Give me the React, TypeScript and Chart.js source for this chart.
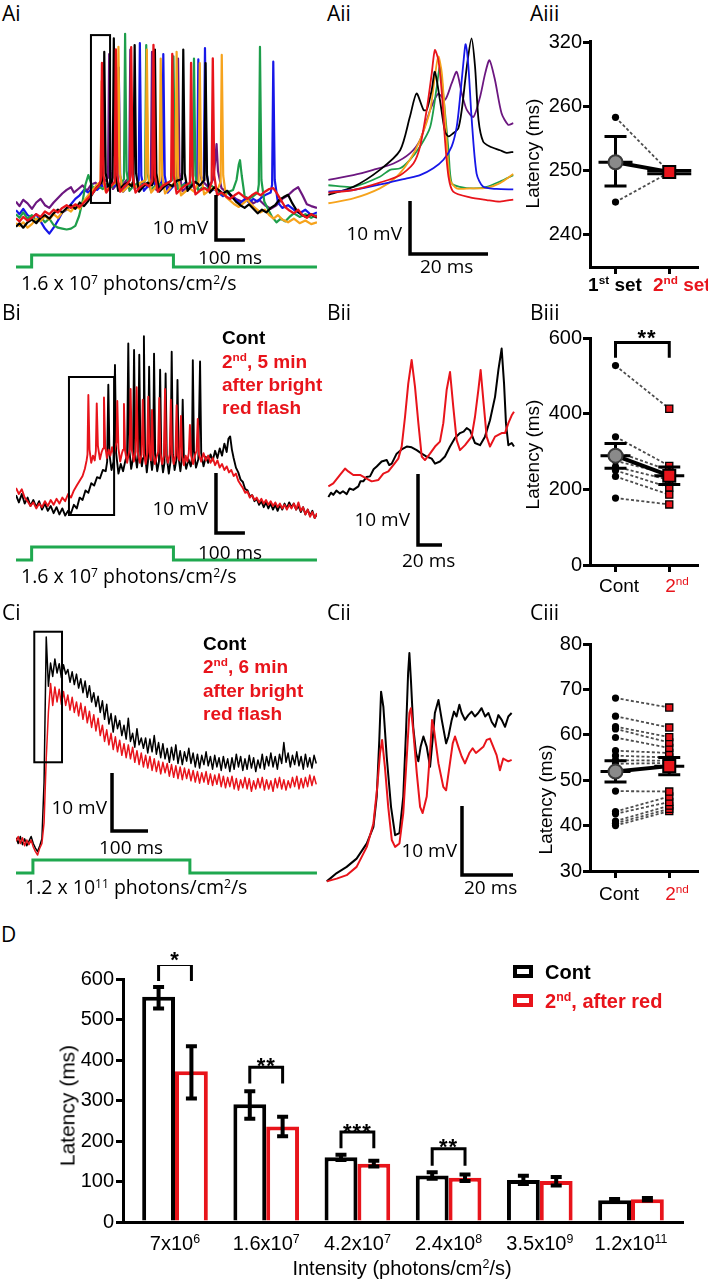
import React, { useEffect, useRef } from 'react';
import { Chart, registerables } from 'chart.js';

Chart.register(...registerables);

const OPEN = '"Open Sans", "Noto Sans", "DejaVu Sans", sans-serif';
const ARIAL = '"Liberation Sans", Arial, Helvetica, sans-serif';
const RED = '#e8141b';
const STIM_GREEN = '#1fa84f';
const C_PURPLE = '#6c1780';
const C_BLUE = '#1717e8';
const C_GREEN = '#1e9e4b';
const C_ORANGE = '#f6a31c';

// ---------------- Ai : six sweeps, [time ms, mV] ----------------
const AI_PURPLE = [[0,-56.8],[12,-57.8],[25,-56.4],[40,-57.2],[55,-58.4],[70,-57.0],[85,-56.2],[100,-57.6],[115,-58.2],[130,-57.0],[145,-56.0],[160,-55.0],[175,-54.2],[190,-53.6],[200,-54.8],[215,-54.0],[230,-53.2],[245,-54.4],[260,-53.0],[275,-52.6],[290,-53.6],[305,-52.4],[318,-51.5],[322,-24],[327,-50],[335,-54],[350,-52.8],[365,-53.4],[380,-52.2],[391,-51.5],[395,-23],[400,-50],[410,-54],[425,-53],[440,-52.5],[455,-53.6],[466,-51.8],[470,-23.5],[475,-50],[485,-54.2],[500,-53.2],[515,-52.6],[530,-53.8],[545,-52.8],[556,-52],[560,-25],[565,-50.5],[575,-54.5],[590,-53.6],[605,-53],[620,-54],[635,-53.2],[650,-52.6],[665,-53.6],[680,-52],[688,-48],[693,-44],[698,-50],[710,-53.8],[725,-54.6],[740,-55.2],[760,-56.2],[780,-56.8],[800,-56],[820,-57.2],[840,-56.4],[860,-57.6],[880,-58.4],[900,-57.6],[920,-56.2],[940,-55.4],[960,-54.2],[975,-53.6],[990,-55.4],[1005,-57.4],[1020,-57.8],[1040,-58.2]];
const AI_BLUE = [[0,-58.7],[12,-59.6],[25,-58.4],[40,-59.8],[55,-60.4],[70,-59.6],[85,-61.2],[100,-62.8],[115,-63.9],[130,-62.6],[145,-61.0],[160,-59.2],[175,-58.6],[190,-57.4],[205,-56.2],[220,-55.4],[235,-54.2],[250,-54.8],[265,-53.6],[280,-54.2],[295,-53.2],[310,-53.8],[325,-52.6],[340,-53.4],[351,-52],[355,-27],[360,-51],[370,-54.6],[385,-53.4],[400,-52.8],[415,-53.6],[424,-52],[428,-21.6],[433,-51],[442,-54.4],[458,-53.2],[475,-52.6],[490,-53.8],[505,-52.2],[509,-24],[514,-51],[524,-54.8],[540,-53.6],[555,-52.8],[570,-53.8],[585,-52.6],[600,-53.4],[615,-52.8],[626,-52],[630,-25.2],[635,-50],[645,-53],[649,-51],[653,-22.7],[658,-50],[668,-54.6],[685,-54],[700,-54.8],[715,-55.6],[730,-54.6],[745,-55.8],[760,-56.4],[775,-57.2],[790,-56.2],[805,-57.0],[820,-56.2],[835,-56.8],[850,-55.8],[865,-55.2],[880,-54.8],[885,-53],[889,-25.7],[894,-52],[905,-57],[920,-58.2],[940,-57.6],[960,-58.6],[980,-59.4],[1000,-58.6],[1020,-59.8],[1040,-59.2]];
const AI_GREEN = [[0,-59.6],[12,-60.4],[25,-59.2],[40,-60.6],[55,-59.8],[70,-61.0],[85,-60.2],[100,-61.4],[115,-60.6],[130,-62.0],[145,-62.6],[160,-62.8],[175,-63.0],[190,-62.8],[205,-62.2],[218,-60.0],[230,-56.8],[240,-53.0],[250,-50.9],[260,-52.8],[270,-54.2],[285,-53.4],[300,-54.0],[315,-52.8],[330,-53.6],[345,-52.4],[360,-53.2],[373,-51.8],[377,-19.5],[382,-50],[392,-54.4],[408,-53.2],[424,-52.6],[438,-53.6],[446,-52],[450,-22],[455,-50.5],[465,-54.2],[480,-53.4],[495,-52.8],[510,-53.8],[525,-52.6],[540,-52],[544,-24.5],[549,-50.5],[559,-54],[575,-53.2],[590,-52.8],[605,-53.6],[611,-52],[615,-25],[620,-51],[630,-54.4],[645,-53.6],[660,-54],[675,-53.2],[690,-54.2],[705,-54.8],[720,-55.4],[735,-54.6],[750,-54.2],[762,-52],[770,-48.5],[774,-47.6],[780,-51],[790,-55.6],[805,-56.2],[820,-55.6],[835,-54.8],[839,-53],[843,-22.4],[848,-52],[858,-56.8],[872,-58.6],[885,-60.2],[900,-61.4],[915,-60.6],[930,-61.2],[945,-60.2],[960,-59.4],[980,-60.2],[1000,-59.6],[1020,-60.4],[1040,-59.8]];
const AI_ORANGE = [[0,-61.6],[12,-62.2],[25,-61.4],[40,-62.6],[55,-61.8],[70,-60.6],[85,-61.2],[100,-60.0],[115,-60.8],[130,-59.6],[145,-60.4],[160,-59.2],[175,-58.4],[190,-59.0],[205,-57.8],[220,-58.4],[235,-56.6],[250,-55.4],[265,-54.2],[280,-53.0],[292,-52.4],[296,-30],[301,-52],[310,-54.6],[325,-53.4],[340,-52.8],[350,-51.8],[354,-22.4],[359,-50.5],[369,-54.6],[385,-53.6],[400,-52.8],[415,-53.6],[430,-52.6],[448,-52],[452,-23],[457,-50.5],[467,-54.8],[482,-53.6],[496,-52.2],[500,-25],[505,-51],[515,-55],[530,-54],[551,-52.2],[555,-23.5],[560,-51],[570,-55.4],[585,-54.6],[600,-53.8],[615,-54.6],[631,-52.4],[635,-26],[640,-51],[650,-55.2],[665,-54.4],[680,-53.8],[695,-54.4],[707,-52.4],[711,-24.2],[716,-51],[726,-55.8],[740,-56.6],[755,-57.4],[770,-58.0],[785,-57.2],[800,-56.4],[815,-57.6],[830,-58.4],[845,-59.2],[860,-58.6],[875,-59.8],[890,-60.6],[905,-59.8],[920,-60.8],[940,-61.4],[960,-60.6],[980,-61.6],[1000,-61.0],[1020,-61.8],[1040,-61.4]];
const AI_BLACK = [[0,-62.4],[12,-61.6],[25,-62.6],[40,-61.4],[55,-60.8],[70,-61.6],[85,-60.4],[100,-59.8],[115,-60.6],[130,-59.4],[145,-58.6],[160,-59.2],[175,-58.2],[190,-57.6],[205,-58.4],[220,-57.0],[235,-57.8],[250,-56.6],[265,-55.0],[280,-53.6],[295,-52.6],[301,-51.5],[305,-23.5],[310,-50.5],[318,-53.5],[330,-52.6],[334,-51.5],[338,-20.5],[343,-50.5],[353,-54.4],[370,-53.2],[385,-52.6],[400,-53.4],[406,-52],[410,-22],[415,-50.5],[425,-54.6],[440,-53.4],[455,-52.6],[470,-53.2],[476,-51.8],[480,-23],[485,-50.5],[495,-54.6],[510,-53.6],[525,-52.8],[540,-53.4],[555,-52.2],[574,-51.8],[578,-23],[583,-50.5],[593,-54.4],[608,-53.2],[620,-52.4],[635,-53.2],[651,-52],[655,-26],[660,-51],[670,-54.8],[685,-53.6],[700,-54.2],[715,-55.0],[730,-54.4],[745,-55.6],[760,-56.8],[775,-57.6],[790,-58.2],[805,-57.4],[820,-58.4],[835,-59.4],[850,-58.6],[865,-59.2],[880,-58.2],[895,-57.6],[910,-56.4],[925,-55.8],[940,-55.3],[955,-57.2],[970,-58.8],[985,-59.6],[1000,-60.2],[1020,-59.6],[1040,-60.4]];
const AI_RED = [[0,-60.5],[12,-61.2],[25,-60.2],[40,-61.0],[55,-60.4],[70,-59.6],[85,-60.2],[100,-59.0],[115,-59.6],[130,-58.6],[145,-59.2],[160,-58.2],[175,-57.6],[190,-58.2],[205,-57.4],[220,-58.0],[235,-57.0],[250,-56.0],[262,-55.2],[275,-54.0],[287,-53.2],[293,-52],[297,-26],[302,-51],[312,-54.8],[325,-53.6],[341,-52.4],[345,-23],[350,-51],[360,-54.6],[375,-53.4],[385,-52.8],[394,-52],[398,-22.5],[403,-51],[413,-54.8],[428,-53.6],[445,-52.8],[460,-53.4],[471,-52.2],[475,-22],[480,-51],[490,-54.6],[505,-53.4],[520,-52.8],[536,-52.2],[540,-24],[545,-51],[555,-55],[570,-54],[585,-53.2],[601,-52.6],[605,-26],[610,-51],[620,-55.2],[635,-54.4],[650,-53.8],[665,-54.4],[676,-52.6],[680,-25],[685,-51],[695,-55.4],[710,-54.8],[725,-55.6],[740,-56.2],[755,-55.4],[770,-54.8],[785,-55.6],[800,-56.2],[815,-55.4],[830,-54.8],[845,-55.4],[860,-54.6],[875,-54.0],[889,-53.8],[900,-54.8],[915,-56.4],[930,-58.0],[945,-58.8],[960,-59.4],[975,-58.6],[990,-59.8],[1005,-60.4],[1020,-59.6],[1040,-60.2]];

// light step (time ms, level)
const STIM_AB_T = [0, 54, 54, 544, 544, 1040];
const STIM_C_T = [0, 47, 47, 483, 483, 836];
const STIM_LEVEL = [0, 0, 1, 1, 0, 0];

// ---------------- Aii : expanded first spikes ----------------
const AII_PURPLE = [[0.1,-58.1],[6.5,-57.2],[11.6,-56.2],[16.8,-55.0],[21.0,-53.1],[23.6,-50.6],[26.2,-44.9],[28.3,-41.8],[30.0,-43.0],[31.7,-39.9],[33.0,-37.7],[34.3,-41.8],[35.6,-44.9],[37.3,-46.2],[39.0,-42.4],[40.3,-38.0],[41.4,-35.5],[42.8,-39.2],[44.5,-45.5],[46.2,-47.7],[47.5,-47.4]];
const AII_GREEN = [[0.1,-59.1],[6.5,-59.4],[13.3,-57.5],[15.9,-56.2],[18.5,-55.9],[21.0,-54.3],[23.6,-51.8],[26.2,-48.1],[27.9,-40.5],[28.7,-36.7],[29.7,-43.0],[30.9,-52.5],[31.7,-58.7],[33.8,-59.4],[37.3,-59.7],[40.7,-59.4],[44.1,-58.4],[47.5,-57.2]];
const AII_ORANGE = [[0.1,-62.5],[6.5,-61.6],[13.3,-59.7],[17.6,-57.5],[21.0,-54.3],[23.6,-50.6],[26.2,-44.9],[27.4,-38.6],[28.3,-34.8],[29.2,-38.0],[30.3,-49.3],[31.3,-58.1],[33.0,-59.7],[36.4,-59.7],[40.7,-59.6],[44.1,-58.7],[47.5,-57.0]];
const AII_BLACK = [[0.1,-60.9],[6.5,-59.4],[13.3,-56.2],[18.5,-52.5],[21.0,-46.2],[22.7,-41.8],[24.5,-44.9],[25.3,-44.9],[26.6,-41.1],[27.4,-37.7],[28.7,-43.0],[30.0,-49.0],[30.9,-49.9],[32.1,-49.3],[33.4,-48.4],[34.3,-44.9],[35.6,-36.7],[36.8,-31.4],[37.7,-36.7],[38.6,-46.8],[39.8,-50.9],[41.5,-51.8],[44.1,-52.5],[45.8,-53.0],[47.5,-52.8]];
const AII_BLUE = [[0.1,-60.3],[6.5,-60.0],[15.0,-58.7],[20.2,-57.8],[23.6,-57.2],[27.0,-55.9],[29.6,-54.3],[31.7,-51.8],[33.0,-48.1],[33.8,-43.0],[34.7,-36.1],[35.3,-32.5],[36.0,-36.7],[36.8,-46.2],[38.1,-56.9],[39.8,-59.4],[43.2,-59.8],[47.5,-59.9]];
const AII_RED = [[0.1,-60.5],[6.5,-60.0],[13.3,-58.6],[18.5,-57.2],[21.9,-55.0],[23.6,-51.8],[25.3,-44.9],[26.6,-38.0],[27.4,-33.6],[28.3,-35.5],[29.2,-41.8],[30.0,-50.6],[30.9,-57.5],[32.1,-60.3],[36.4,-61.4],[40.7,-61.9],[44.1,-62.2],[47.5,-61.8]];

// ---------------- Aiii ----------------
const AIII_FIRST = [258.3, 245.1];
const AIII_SECOND = [249.8, 249.7];
const AIII_MEAN = [251.3, 249.8];
const AIII_SEM_LO = [247.6, 249.5];
const AIII_SEM_HI = [255.3, 250.0];
const AIII_TICKS = [240, 250, 260, 270];
const AIII_TICK_LABELS = ['240', '250', '260', '320'];

// ---------------- Bi ----------------
const BI_BLACK = [[0,-59.2],[10,-60.4],[20,-59.0],[30,-60.6],[40,-59.6],[50,-61.0],[60,-60.0],[70,-61.2],[80,-60.2],[90,-61.6],[100,-60.6],[110,-61.8],[120,-61.0],[130,-62.2],[140,-61.2],[150,-62.4],[160,-61.4],[170,-62.6],[180,-61.8],[190,-62.2],[200,-60.8],[210,-61.4],[220,-59.6],[230,-60.0],[240,-58.4],[250,-58.8],[260,-57.2],[270,-57.6],[280,-56.2],[290,-56.4],[300,-55.0],[310,-55.2],[315,-53.6],[319,-40.8],[323,-52.4],[330,-55.0],[337,-53.6],[342,-37.5],[346,-52.2],[354,-55.6],[362,-54.0],[370,-55.2],[378,-53.4],[384,-52.6],[388,-33.9],[392,-51.8],[398,-54.8],[404,-53.2],[408,-35.0],[412,-52.4],[418,-54.6],[422,-53.0],[426,-35.8],[430,-52.6],[435,-54.4],[439,-53.0],[442,-32.7],[446,-52.2],[452,-55.4],[456,-53.6],[460,-37.8],[464,-52.6],[470,-55.0],[474,-53.4],[477,-35.6],[481,-52.4],[488,-55.2],[494,-53.6],[498,-38.3],[502,-52.8],[508,-55.4],[513,-53.8],[517,-38.9],[521,-52.8],[528,-55.6],[534,-53.6],[538,-35.3],[542,-52.4],[548,-55.0],[554,-53.4],[558,-40.0],[562,-53.0],[568,-55.2],[572,-53.6],[576,-43.3],[580,-52.8],[588,-54.8],[596,-53.2],[604,-54.4],[608,-53.0],[611,-36.7],[615,-52.0],[622,-54.6],[630,-53.2],[636,-36.9],[640,-52.2],[648,-54.4],[656,-52.8],[664,-53.8],[672,-52.4],[680,-53.4],[688,-51.8],[696,-53.0],[704,-51.4],[712,-52.6],[720,-50.6],[728,-52.0],[734,-49.8],[740,-49.4],[746,-51.6],[752,-53.0],[760,-54.6],[768,-55.4],[776,-56.6],[784,-57.0],[792,-58.2],[800,-58.4],[808,-59.4],[816,-59.2],[824,-60.2],[832,-59.8],[840,-60.8],[848,-60.2],[856,-61.2],[864,-60.4],[872,-61.4],[880,-60.6],[888,-61.6],[896,-60.8],[904,-61.8],[912,-60.8],[920,-61.6],[928,-60.6],[936,-61.4],[944,-60.4],[952,-61.2],[960,-60.6],[968,-61.6],[976,-61.0],[984,-62.0],[992,-61.2],[1000,-62.4],[1008,-61.6],[1016,-62.6],[1024,-61.8],[1032,-63.0],[1040,-62.4]];
const BI_RED = [[0,-58.0],[10,-59.0],[20,-58.2],[30,-59.6],[40,-60.2],[50,-61.0],[60,-60.4],[70,-61.4],[80,-60.6],[90,-61.2],[100,-60.2],[110,-61.0],[120,-60.0],[130,-60.8],[140,-59.8],[150,-60.6],[160,-59.6],[170,-60.2],[180,-59.0],[190,-59.6],[200,-58.4],[210,-57.6],[220,-56.8],[230,-56.0],[238,-54.8],[244,-53.4],[247,-52.4],[250,-42.5],[254,-51.6],[260,-53.8],[266,-52.6],[272,-53.4],[276,-51.8],[279,-43.9],[283,-51.0],[290,-53.2],[296,-52.0],[301,-51.4],[304,-42.9],[308,-50.8],[314,-53.0],[320,-51.6],[326,-52.6],[332,-51.2],[338,-52.4],[344,-51.0],[347,-50.4],[350,-43.5],[354,-51.4],[360,-53.6],[366,-52.2],[370,-51.6],[373,-44.0],[377,-51.8],[384,-53.8],[390,-52.2],[393,-51.6],[396,-41.5],[400,-51.6],[407,-53.6],[413,-52.0],[417,-41.2],[421,-52.0],[428,-53.8],[434,-52.4],[438,-43.3],[442,-52.2],[448,-54.0],[453,-52.4],[457,-42.8],[461,-52.0],[466,-53.4],[470,-45.0],[474,-52.4],[480,-54.0],[486,-52.8],[491,-52.0],[495,-43.0],[499,-52.2],[505,-54.0],[511,-52.6],[515,-41.5],[519,-52.4],[525,-53.8],[531,-52.4],[535,-43.3],[539,-52.2],[545,-54.0],[551,-52.6],[555,-44.2],[559,-52.6],[565,-53.4],[570,-46.0],[574,-52.6],[580,-54.2],[586,-52.6],[592,-53.6],[597,-52.2],[601,-47.5],[605,-52.6],[612,-54.0],[618,-52.6],[624,-51.8],[628,-46.5],[632,-52.4],[640,-53.6],[648,-52.2],[656,-53.4],[664,-52.6],[672,-53.8],[680,-53.0],[688,-54.2],[696,-53.4],[704,-54.6],[712,-54.0],[720,-55.0],[728,-54.4],[736,-55.4],[744,-55.0],[752,-56.0],[760,-55.6],[768,-56.8],[776,-57.4],[784,-58.0],[792,-58.8],[800,-58.6],[808,-59.6],[816,-59.2],[824,-60.0],[832,-59.6],[840,-60.4],[848,-59.8],[856,-60.6],[864,-60.0],[872,-60.8],[880,-60.2],[888,-61.0],[896,-60.4],[904,-61.2],[912,-60.6],[920,-61.4],[928,-60.8],[936,-61.6],[944,-60.8],[952,-61.4],[960,-60.6],[968,-61.6],[976,-60.4],[984,-61.8],[992,-61.2],[1000,-62.4],[1008,-61.6],[1016,-62.8],[1024,-62.0],[1032,-63.0],[1040,-62.2]];

// ---------------- Bii ----------------
const BII_BLACK = [[0.3,-63.8],[2.5,-63.2],[4.4,-63.5],[7,-62.9],[10.0,-63.3],[12.5,-63.0],[15.6,-63.4],[18,-62.6],[21.1,-62.8],[25.3,-62.3],[27,-61.6],[29.4,-61.6],[32,-61.0],[35.0,-60.9],[38,-59.9],[40.6,-59.5],[44.7,-58.8],[48.9,-58.6],[51,-59.3],[53.1,-59.1],[57.2,-57.7],[61.4,-57.1],[65.6,-56.7],[69.7,-56.8],[73.9,-57.2],[78.1,-57.7],[82.2,-58.1],[86.4,-58.4],[89.2,-59.1],[93.3,-58.8],[97.5,-58.1],[101.7,-56.7],[105.8,-55.5],[110.0,-54.8],[113,-54.6],[115.6,-54.1],[118.3,-54.4],[122.5,-56.2],[126.7,-56.5],[130.8,-55.3],[135.0,-53.0],[139.2,-49.7],[142.0,-45.9],[144.7,-42.9],[146.7,-47.8],[148.3,-53.4],[150.3,-56.5],[153.1,-56.2],[155.0,-56.7]];
const BII_RED = [[0.3,-62.3],[4.4,-61.9],[10.0,-60.7],[14.2,-59.8],[16.9,-60.2],[21.1,-60.7],[26.7,-60.7],[32.2,-61.2],[36.4,-61.6],[42.0,-61.4],[46.1,-60.5],[50.3,-60.2],[54.4,-59.3],[58.6,-58.4],[61.4,-56.7],[64.2,-52.5],[66.9,-47.8],[69.7,-44.5],[72.5,-48.3],[75.3,-53.4],[78.1,-58.1],[80.8,-58.6],[85.0,-57.7],[89.2,-56.7],[93.3,-56.0],[96.1,-53.4],[98.9,-48.7],[101.7,-46.2],[104.4,-51.1],[107.2,-55.8],[110.0,-57.2],[114.2,-56.5],[119.7,-55.3],[122.5,-52.5],[125.3,-48.7],[127.2,-45.9],[129.4,-50.1],[132.2,-55.3],[135.0,-56.7],[139.2,-55.3],[144.7,-54.8],[147.5,-54.8],[150.3,-53.4],[153.1,-52.3],[155.0,-51.8]];

// ---------------- Biii ----------------
const BIII_CONT = [527, 339, 300, 275, 260, 250, 234, 177];
const BIII_SECOND = [413, 262, 250, 240, 225, 205, 186, 160];
const BIII_MEAN = [289, 236];
const BIII_SEM_LO = [256, 213];
const BIII_SEM_HI = [321, 259];
const BIII_TICKS = [0, 200, 400, 600];

// ---------------- Ci (samples every 6 ms) ----------------
const CI_DT = 6;
const CI_BLACK = [
  -59.6,-60.6,-59.4,-60.8,-59.8,-61.0,-60.2,-59.4,-60.6,-61.4,
  -62.0,-61.0,-59.8,-50.0,-25.0,-33.5,-29.5,-31.8,-28.8,-31.2,
  -29.6,-32.0,-29.8,-31.4,-30.6,-32.8,-31.0,-33.2,-31.4,-33.8,
  -32.2,-34.6,-32.6,-35.4,-33.4,-36.2,-34.6,-37.0,-35.2,-38.0,
  -36.0,-39.2,-36.6,-40.0,-38.2,-41.4,-38.6,-40.8,-39.4,-42.0,
  -40.2,-42.6,-39.0,-43.0,-41.6,-44.0,-40.8,-43.6,-42.4,-44.2,
  -42.4,-45.0,-42.6,-44.8,-42.0,-45.2,-43.2,-45.8,-43.4,-46.0,
  -44.2,-46.6,-44.0,-46.2,-43.6,-46.8,-44.6,-47.0,-44.8,-46.4,
  -44.2,-46.8,-45.0,-47.4,-45.2,-47.6,-45.4,-47.0,-44.8,-47.2,
  -45.6,-47.8,-45.4,-47.4,-45.8,-48.0,-45.6,-47.6,-46.0,-48.2,
  -45.8,-47.8,-45.2,-47.4,-45.6,-48.0,-46.0,-47.8,-45.4,-47.6,
  -45.8,-48.2,-46.2,-47.6,-45.2,-47.8,-45.6,-47.2,-45.0,-47.4,
  -45.6,-47.8,-45.2,-46.8,-43.2,-46.6,-45.0,-47.4,-45.4,-47.0,
  -44.8,-47.2,-45.6,-47.8,-45.2,-47.4,-45.8,-47.6,-45.4,-46.8
];
const CI_RED = [
  -60.2,-59.4,-60.6,-59.6,-61.0,-60.0,-60.8,-60.0,-61.2,-62.0,
  -62.6,-61.4,-60.6,-57.0,-46.0,-38.0,-33.0,-36.8,-33.6,-36.2,
  -34.0,-36.6,-34.4,-36.8,-35.0,-37.6,-35.4,-38.0,-36.2,-38.6,
  -36.4,-39.2,-37.0,-39.8,-37.8,-40.6,-38.4,-41.2,-39.0,-42.0,
  -40.2,-43.0,-41.0,-43.6,-41.6,-44.4,-42.2,-44.8,-42.8,-45.4,
  -43.4,-45.8,-43.6,-46.0,-44.0,-46.6,-44.6,-47.0,-45.0,-47.4,
  -45.4,-47.6,-45.6,-48.0,-46.0,-48.2,-46.4,-48.6,-46.6,-48.4,
  -46.8,-49.0,-47.0,-49.2,-47.2,-49.4,-47.4,-49.6,-47.6,-49.4,
  -47.8,-49.8,-48.0,-50.0,-48.2,-50.2,-48.4,-50.0,-48.2,-50.4,
  -48.6,-50.6,-48.8,-50.4,-48.6,-50.8,-49.0,-51.0,-49.2,-50.8,
  -49.0,-51.2,-49.4,-51.4,-49.6,-51.0,-49.2,-51.2,-49.4,-51.6,
  -49.8,-51.2,-49.4,-51.0,-49.2,-51.4,-49.6,-51.2,-49.8,-51.6,
  -49.4,-51.0,-49.2,-51.2,-49.6,-51.4,-49.8,-51.0,-49.2,-50.8,
  -49.0,-51.2,-49.4,-51.0,-49.2,-50.8,-48.8,-50.6,-49.0,-50.4
];

// ---------------- Cii ----------------
const CII_BLACK = [[0.3,-60.2],[4.2,-59.0],[8.1,-58.1],[12.0,-56.9],[16.0,-54.7],[18.6,-52.3],[19.9,-47.9],[20.9,-39.7],[21.6,-32.7],[22.5,-34.9],[23.8,-42.1],[25.5,-49.4],[27.1,-53.5],[28.8,-53.2],[30.3,-47.9],[31.4,-38.3],[32.2,-30.0],[32.7,-27.1],[33.3,-31.0],[34.2,-37.8],[35.3,-41.6],[36.2,-42.8],[37.1,-40.7],[38.2,-39.2],[39.5,-40.7],[40.8,-43.6],[41.8,-39.7],[42.7,-35.8],[44.1,-33.9],[45.4,-36.8],[47.1,-40.2],[48.0,-39.2],[49.3,-36.8],[50.2,-35.6],[51.2,-36.3],[52.3,-34.6],[53.2,-35.8],[54.5,-36.8],[55.8,-36.1],[57.1,-35.6],[58.4,-36.3],[59.7,-35.8],[61.0,-35.1],[62.4,-36.3],[63.7,-35.8],[65.0,-37.1],[66.3,-37.8],[67.6,-36.1],[68.9,-36.8],[70.2,-37.8],[71.5,-36.3],[72.8,-35.8]];
const CII_RED = [[0.3,-60.2],[4.2,-59.8],[8.1,-59.3],[12.0,-58.1],[16.0,-55.2],[18.6,-51.8],[20.1,-46.5],[21.2,-41.6],[22.0,-39.7],[23.1,-43.6],[24.4,-49.4],[25.8,-54.2],[27.1,-55.2],[28.8,-54.7],[30.3,-50.3],[31.6,-42.6],[32.7,-35.8],[33.3,-35.1],[34.2,-38.3],[35.6,-44.5],[36.9,-49.4],[37.9,-50.3],[39.5,-47.9],[40.8,-41.6],[41.6,-36.8],[42.4,-38.3],[44.1,-43.1],[46.0,-46.5],[47.1,-47.0],[48.4,-43.6],[49.7,-40.2],[50.6,-39.2],[51.9,-40.7],[53.2,-42.1],[54.5,-43.1],[56.2,-41.6],[57.5,-40.9],[58.8,-41.6],[60.1,-41.2],[61.7,-40.7],[63.0,-39.7],[64.3,-39.5],[65.6,-40.7],[66.9,-41.9],[68.2,-44.1],[69.5,-42.4],[71.5,-42.8],[72.8,-42.6]];

// ---------------- Ciii ----------------
const CIII_CONT = [68.1, 64.1, 61.8, 61.3, 59.4, 56.5, 55.4, 54.4, 53.6, 47.6, 43.1, 42.6, 41.0, 40.5, 40.0];
const CIII_SECOND = [66.0, 61.6, 59.5, 58.3, 57.1, 56.0, 55.0, 54.3, 53.8, 47.5, 46.4, 45.2, 44.4, 43.7, 43.2];
const CIII_MEAN = [51.9, 53.1];
const CIII_SEM_LO = [49.6, 51.2];
const CIII_SEM_HI = [54.3, 55.0];
const CIII_TICKS = [30, 40, 50, 60, 70, 80];

// ---------------- D ----------------
const D_MANT = ['7', '1.6', '4.2', '2.4', '3.5', '1.2'];
const D_EXP = ['6', '7', '7', '8', '9', '11'];
const D_CONT = [556, 291, 160, 115, 104, 54];
const D_RED = [372, 236, 144, 109, 101, 56];
const D_CONT_LO = [527, 255, 153, 107, 94, 51];
const D_CONT_HI = [580, 323, 166, 123, 114, 57];
const D_RED_LO = [305, 212, 137, 101, 90, 53];
const D_RED_HI = [434, 260, 151, 117, 111, 59];
const D_TICKS = [0, 100, 200, 300, 400, 500, 600];
const D_SIG_GROUP = [0, 1, 2, 3];
const D_SIG_TOP = [636, 382, 222, 181];
const D_SIG_BOTTOM = [595, 342, 182, 139];
const D_SIG_LABEL = ['*', '**', '***', '**'];

// ---------------- helpers ----------------
function axisX(v0: number, p0: number, v1: number, p1: number, left: number, width: number) {
  const s = (p1 - p0) / (v1 - v0);
  const min = v0 - (p0 - left) / s;
  return { min, max: min + width / s };
}
function axisY(v0: number, p0: number, v1: number, p1: number, top: number, height: number) {
  const s = (p0 - p1) / (v1 - v0);
  const max = v0 + (p0 - top) / s;
  return { min: max - height / s, max };
}

function drawErrs(chart: any, errs: any[]) {
  const ctx = chart.ctx;
  const xs = chart.scales.x, ys = chart.scales.y;
  ctx.save();
  ctx.strokeStyle = '#000';
  for (const e of errs) {
    const x = e.ds != null ? chart.getDatasetMeta(e.ds).data[e.group].x : xs.getPixelForValue(e.x);
    const yl = ys.getPixelForValue(e.lo), yh = ys.getPixelForValue(e.hi);
    ctx.lineWidth = e.w;
    ctx.beginPath();
    ctx.moveTo(x, yl); ctx.lineTo(x, yh);
    ctx.moveTo(x - e.cap / 2, yl); ctx.lineTo(x + e.cap / 2, yl);
    ctx.moveTo(x - e.cap / 2, yh); ctx.lineTo(x + e.cap / 2, yh);
    if (e.meanW) {
      const ym = ys.getPixelForValue(e.mean);
      ctx.moveTo(x - e.meanW / 2, ym); ctx.lineTo(x + e.meanW / 2, ym);
    }
    ctx.stroke();
  }
  ctx.restore();
}

const extrasPlugin = {
  id: 'extras',
  beforeDatasetDraw(chart: any, args: any, opts: any) {
    if (opts && opts.errBefore === args.index && opts.errs) drawErrs(chart, opts.errs);
  },
  afterDatasetsDraw(chart: any, _a: any, opts: any) {
    if (!opts) return;
    const ctx = chart.ctx;
    const xs = chart.scales.x, ys = chart.scales.y;
    ctx.save();
    ctx.strokeStyle = '#000';
    (opts.boxes || []).forEach((b: any) => {
      ctx.lineWidth = b.w;
      const x0 = xs.getPixelForValue(b.x0), x1 = xs.getPixelForValue(b.x1);
      const y0 = ys.getPixelForValue(b.y0), y1 = ys.getPixelForValue(b.y1);
      ctx.strokeRect(x0, y1, x1 - x0, y0 - y1);
    });
    (opts.scaleBars || []).forEach((s: any) => {
      ctx.lineWidth = s.w;
      ctx.lineCap = 'butt';
      const x0 = xs.getPixelForValue(s.x), y0 = ys.getPixelForValue(s.y);
      const x1 = xs.getPixelForValue(s.x + s.dx), y1 = ys.getPixelForValue(s.y + s.dy);
      ctx.beginPath();
      ctx.moveTo(x0, y1); ctx.lineTo(x0, y0); ctx.lineTo(x1, y0);
      ctx.stroke();
    });
    (opts.brackets || []).forEach((b: any) => {
      let xl, xr;
      if (b.group != null) {
        xl = chart.getDatasetMeta(0).data[b.group].x;
        xr = chart.getDatasetMeta(1).data[b.group].x;
      } else {
        xl = xs.getPixelForValue(b.x0); xr = xs.getPixelForValue(b.x1);
      }
      const yt = ys.getPixelForValue(b.top), yb = ys.getPixelForValue(b.bottom);
      ctx.lineWidth = b.w;
      ctx.lineJoin = 'miter';
      ctx.beginPath();
      ctx.moveTo(xl, yb); ctx.lineTo(xl, yt); ctx.lineTo(xr, yt); ctx.lineTo(xr, yb);
      ctx.stroke();
    });
    ctx.restore();
    if (opts.errs && opts.errBefore == null) drawErrs(chart, opts.errs);
  },
};
Chart.register(extrasPlugin as any);
Chart.defaults.font.family = ARIAL;

const pts = (a: number[][]) => a.map((p) => ({ x: p[0], y: p[1] }));

type Series = { data: number[][]; color: string; width: number; tension?: number };

function traceConfig(series: Series[], xr: any, yr: any, stimT: number[] | null, sr: any, extras: any) {
  const datasets: any[] = series.map((s) => ({
    data: pts(s.data),
    borderColor: s.color,
    borderWidth: s.width,
    pointRadius: 0,
    tension: s.tension || 0,
    borderJoinStyle: 'round',
    yAxisID: 'y',
    clip: false,
  }));
  const scales: any = {
    x: { type: 'linear', display: false, min: xr.min, max: xr.max },
    y: { type: 'linear', display: false, min: yr.min, max: yr.max },
  };
  if (stimT) {
    datasets.push({
      data: stimT.map((t, i) => ({ x: t, y: STIM_LEVEL[i] })),
      borderColor: STIM_GREEN,
      borderWidth: 3,
      pointRadius: 0,
      tension: 0,
      yAxisID: 'ys',
      clip: false,
    });
    scales.ys = { type: 'linear', display: false, min: sr.min, max: sr.max };
  }
  return {
    type: 'line',
    data: { datasets },
    options: {
      animation: false,
      responsive: false,
      events: [],
      layout: { padding: 0 },
      plugins: { legend: { display: false }, tooltip: { enabled: false }, extras },
      scales,
    },
  };
}

const PAIR_X = axisX(1, 618, 2, 677, 590, 118);

function pairConfig(o: any) {
  const datasets: any[] = [
    {
      data: [{ x: 1, y: o.mean[0] }, { x: 2, y: o.mean[1] }],
      borderColor: '#000',
      borderWidth: 4,
      order: 0,
      pointStyle: ['circle', 'rect'],
      pointRadius: [7, 8.5],
      pointBackgroundColor: ['#8a8a8a', RED],
      pointBorderColor: ['#3a3a3a', '#000'],
      pointBorderWidth: [2, 2],
      clip: false,
    },
  ];
  o.first.forEach((a: number, i: number) =>
    datasets.push({
      data: [{ x: 1, y: a }, { x: 2, y: o.second[i] }],
      borderColor: '#4d4d4d',
      borderWidth: 1.8,
      borderDash: [3, 2.2],
      order: 1,
      pointStyle: ['circle', 'rect'],
      pointRadius: [3.6, 5],
      pointBackgroundColor: ['#000', RED],
      pointBorderColor: ['#000', '#000'],
      pointBorderWidth: [0, 1.3],
      clip: false,
    })
  );
  const errs = [0, 1].map((i) => ({ x: i + 1, lo: o.lo[i], hi: o.hi[i], cap: o.cap[i], mean: o.mean[i], meanW: o.meanW[i], w: 3 }));
  return {
    type: 'line',
    data: { datasets },
    options: {
      animation: false,
      responsive: false,
      events: [],
      layout: { padding: { top: 12, left: 0, right: 0, bottom: 0 } },
      plugins: { legend: { display: false }, tooltip: { enabled: false }, extras: { errs, errBefore: 0, brackets: o.brackets || [] } },
      scales: {
        x: {
          type: 'linear', min: PAIR_X.min, max: PAIR_X.max, offset: false,
          afterFit: (s: any) => { s.height = 12; },
          afterBuildTicks: (s: any) => { s.ticks = [{ value: 1 }, { value: 2 }]; },
          ticks: { display: false },
          grid: { display: true, drawOnChartArea: false, drawTicks: true, tickLength: 7, lineWidth: 3, color: '#000' },
          border: { display: true, width: 3, color: '#000' },
        },
        y: {
          type: 'linear', min: o.ymin, max: o.ymax,
          afterFit: (s: any) => { s.width = 50; },
          afterBuildTicks: (s: any) => { s.ticks = o.ticks.map((v: number) => ({ value: v })); },
          ticks: {
            callback: (v: number) => o.labels[o.ticks.indexOf(v)],
            font: { family: ARIAL, size: 20 }, color: '#000', padding: 1, autoSkip: false,
          },
          grid: { display: true, drawOnChartArea: false, drawTicks: true, tickLength: 7, lineWidth: 3, color: '#000' },
          border: { display: true, width: 3, color: '#000' },
        },
      },
    },
  };
}

const D_X = axisX(1, 175, 6, 631, 123, 560);

function dConfig() {
  const errs: any[] = [];
  D_CONT.forEach((_, i) => {
    errs.push({ ds: 0, group: i, lo: D_CONT_LO[i], hi: D_CONT_HI[i], cap: 11, w: 4 });
    errs.push({ ds: 1, group: i, lo: D_RED_LO[i], hi: D_RED_HI[i], cap: 11, w: 4 });
  });
  const brackets = D_SIG_GROUP.map((g, i) => ({ group: g, top: D_SIG_TOP[i], bottom: D_SIG_BOTTOM[i], w: 3 }));
  return {
    type: 'bar',
    data: {
      datasets: [
        { data: D_CONT.map((v, i) => ({ x: i + 1, y: v })), borderColor: '#000', backgroundColor: '#fff', borderWidth: 4, borderSkipped: 'start', categoryPercentage: 0.72, barPercentage: 1 },
        { data: D_RED.map((v, i) => ({ x: i + 1, y: v })), borderColor: RED, backgroundColor: '#fff', borderWidth: 4, borderSkipped: 'start', categoryPercentage: 0.72, barPercentage: 1 },
      ],
    },
    options: {
      animation: false,
      responsive: false,
      events: [],
      layout: { padding: { top: 12, left: 0, right: 25, bottom: 0 } },
      plugins: { legend: { display: false }, tooltip: { enabled: false }, extras: { errs, brackets } },
      scales: {
        x: {
          type: 'linear', min: D_X.min, max: D_X.max, offset: false,
          afterFit: (s: any) => { s.height = 12; },
          afterBuildTicks: (s: any) => { s.ticks = D_MANT.map((_, i) => ({ value: i + 1 })); },
          ticks: { display: false },
          grid: { display: false, offset: false },
          border: { display: true, width: 3, color: '#000' },
        },
        y: {
          type: 'linear', min: 0, max: 600,
          afterFit: (s: any) => { s.width = 123; },
          afterBuildTicks: (s: any) => { s.ticks = D_TICKS.map((v) => ({ value: v })); },
          ticks: { font: { family: ARIAL, size: 20 }, color: '#000', padding: 2, autoSkip: false },
          grid: { display: true, drawOnChartArea: false, drawTicks: true, tickLength: 7, lineWidth: 3, color: '#000' },
          border: { display: true, width: 3, color: '#000' },
        },
      },
    },
  };
}

function ChartCanvas({ left, top, width, height, make }: { left: number; top: number; width: number; height: number; make: () => any }) {
  const ref = useRef<HTMLCanvasElement>(null);
  useEffect(() => {
    const c = new Chart(ref.current as HTMLCanvasElement, make());
    return () => c.destroy();
  }, []);
  return <canvas ref={ref} width={width} height={height} style={{ position: 'absolute', left, top, width, height }} />;
}

function Sup({ children }: { children: React.ReactNode }) {
  return <span style={{ fontSize: '0.62em', position: 'relative', top: '-0.55em' }}>{children}</span>;
}

type TP = { x: number; y: number; size?: number; family?: string; weight?: number; color?: string; align?: 'left' | 'center' | 'right'; rot?: boolean; ls?: number; children: React.ReactNode };
function T({ x, y, size = 19, family = OPEN, weight = 400, color = '#000', align = 'left', rot = false, ls, children }: TP) {
  const tx = align === 'center' ? '-50%' : align === 'right' ? '-100%' : '0';
  return (
    <div
      style={{
        position: 'absolute', left: x, top: y - size / 2, fontSize: size, lineHeight: `${size}px`,
        fontFamily: family, fontWeight: weight, color, whiteSpace: 'nowrap', letterSpacing: ls,
        transform: rot ? 'translate(-50%, 0) rotate(-90deg)' : `translateX(${tx})`,
      }}
    >
      {children}
    </div>
  );
}

const AI_X = axisX(0, 16, 100, 44.94, 16, 301);
const AI_Y = axisY(-60, 216, -50, 171, 30, 240);
const AI_S = axisY(0, 267, 1, 255, 30, 240);
const BI_Y = axisY(-60, 500, -50, 440, 325, 240);
const BI_S = axisY(0, 560, 1, 547, 325, 240);
const CI_X = axisX(0, 16, 100, 52, 16, 301);
const CI_Y = axisY(-60, 840, -50, 782, 625, 255);
const CI_S = axisY(0, 873, 1, 860, 625, 255);
const AII_X = axisX(0, 328, 10, 367, 326, 190);
const AII_Y = axisY(-60, 190, -50, 137, 30, 232);
const BII_X = axisX(0, 328, 10, 340, 326, 190);
const BII_Y = axisY(-60, 470, -50, 399, 340, 210);
const CII_X = axisX(0, 326, 10, 351.5, 326, 190);
const CII_Y = axisY(-60, 880, -50, 811, 640, 245);
const AIII_Y = axisY(240, 235.5, 260, 106, 40, 228);

const ciPts = (a: number[]) => a.map((v, i) => [i * CI_DT, v]);

export default function App() {
  const legendBox = (color: string, top: number) => (
    <div style={{ position: 'absolute', left: 513, top, width: 20, height: 13, boxSizing: 'border-box', border: `4px solid ${color}` }} />
  );
  return (
    <div style={{ position: 'absolute', left: 0, top: 0, width: 708, height: 1280, background: '#fff', overflow: 'hidden' }}>
      {/* Ai */}
      <ChartCanvas left={16} top={30} width={301} height={240} make={() => traceConfig(
        [
          { data: AI_RED, color: RED, width: 2.3 },
          { data: AI_BLACK, color: '#000', width: 2.2 },
          { data: AI_ORANGE, color: C_ORANGE, width: 2.2 },
          { data: AI_GREEN, color: C_GREEN, width: 2.2 },
          { data: AI_BLUE, color: C_BLUE, width: 2.2 },
          { data: AI_PURPLE, color: C_PURPLE, width: 2.2 },
        ], AI_X, AI_Y, STIM_AB_T, AI_S,
        { boxes: [{ x0: 259, x1: 325, y0: -57.1, y1: -19.8, w: 2 }], scaleBars: [{ x: 691, y: -65.33, dx: 100, dy: 10, w: 3.5 }] })} />
      {/* Aii */}
      <ChartCanvas left={326} top={30} width={190} height={232} make={() => traceConfig(
        [
          { data: AII_RED, color: RED, width: 1.8, tension: 0.25 },
          { data: AII_BLUE, color: C_BLUE, width: 1.8, tension: 0.25 },
          { data: AII_BLACK, color: '#000', width: 1.8, tension: 0.25 },
          { data: AII_ORANGE, color: C_ORANGE, width: 1.8, tension: 0.25 },
          { data: AII_GREEN, color: C_GREEN, width: 1.8, tension: 0.25 },
          { data: AII_PURPLE, color: C_PURPLE, width: 1.8, tension: 0.25 },
        ], AII_X, AII_Y, null, null,
        { scaleBars: [{ x: 21.03, y: -72.08, dx: 20, dy: 10, w: 3.5 }] })} />
      {/* Aiii */}
      <ChartCanvas left={540} top={28} width={168} height={252} make={() => pairConfig({
        first: AIII_FIRST, second: AIII_SECOND, mean: AIII_MEAN, lo: AIII_SEM_LO, hi: AIII_SEM_HI,
        cap: [22, 44], meanW: [34, 0], ticks: AIII_TICKS, labels: AIII_TICK_LABELS, ymin: AIII_Y.min, ymax: AIII_Y.max,
      })} />

      {/* Bi */}
      <ChartCanvas left={16} top={325} width={301} height={240} make={() => traceConfig(
        [
          { data: BI_RED, color: RED, width: 1.9 },
          { data: BI_BLACK, color: '#000', width: 1.9 },
        ], AI_X, BI_Y, STIM_AB_T, BI_S,
        { boxes: [{ x0: 183, x1: 339, y0: -62.5, y1: -39.5, w: 2 }], scaleBars: [{ x: 691, y: -65.5, dx: 100, dy: 10, w: 3.5 }] })} />
      {/* Bii */}
      <ChartCanvas left={326} top={340} width={190} height={210} make={() => traceConfig(
        [
          { data: BII_RED, color: RED, width: 2 },
          { data: BII_BLACK, color: '#000', width: 2 },
        ], BII_X, BII_Y, null, null,
        { scaleBars: [{ x: 75, y: -70.56, dx: 20, dy: 10, w: 3.5 }] })} />
      {/* Biii */}
      <ChartCanvas left={540} top={325} width={168} height={253} make={() => pairConfig({
        first: BIII_CONT, second: BIII_SECOND, mean: BIII_MEAN, lo: BIII_SEM_LO, hi: BIII_SEM_HI,
        cap: [22, 22], meanW: [30, 30], ticks: BIII_TICKS, labels: BIII_TICKS.map(String), ymin: 0, ymax: 600,
        brackets: [{ x0: 1, x1: 2, top: 588, bottom: 548, w: 3 }],
      })} />

      {/* Ci */}
      <ChartCanvas left={16} top={625} width={301} height={255} make={() => traceConfig(
        [
          { data: ciPts(CI_RED), color: RED, width: 1.5 },
          { data: ciPts(CI_BLACK), color: '#000', width: 1.5 },
        ], CI_X, CI_Y, STIM_C_T, CI_S,
        { boxes: [{ x0: 50.8, x1: 127.8, y0: -46.6, y1: -24.09, w: 2 }], scaleBars: [{ x: 266.7, y: -58.45, dx: 100, dy: 10, w: 3.5 }] })} />
      {/* Cii */}
      <ChartCanvas left={326} top={640} width={190} height={245} make={() => traceConfig(
        [
          { data: CII_RED, color: RED, width: 2 },
          { data: CII_BLACK, color: '#000', width: 2 },
        ], CII_X, CII_Y, null, null,
        { scaleBars: [{ x: 53.33, y: -59.28, dx: 20, dy: 10, w: 3.5 }] })} />
      {/* Ciii */}
      <ChartCanvas left={540} top={631} width={168} height={253} make={() => pairConfig({
        first: CIII_CONT, second: CIII_SECOND, mean: CIII_MEAN, lo: CIII_SEM_LO, hi: CIII_SEM_HI,
        cap: [22, 22], meanW: [30, 30], ticks: CIII_TICKS, labels: CIII_TICKS.map(String), ymin: 30, ymax: 80,
      })} />

      {/* D */}
      <ChartCanvas left={0} top={965} width={708} height={271} make={dConfig} />

      {/* panel labels */}
      <T x={2} y={13} size={21}>Ai</T>
      <T x={327} y={13} size={21}>Aii</T>
      <T x={530} y={13} size={21}>Aiii</T>
      <T x={2} y={312} size={21}>Bi</T>
      <T x={327} y={312} size={21}>Bii</T>
      <T x={530} y={312} size={21}>Biii</T>
      <T x={2} y={612} size={21}>Ci</T>
      <T x={327} y={612} size={21}>Cii</T>
      <T x={530} y={612} size={21}>Ciii</T>
      <T x={1} y={934} size={21}>D</T>

      {/* scale bar labels */}
      <T x={208} y={227} align="right">10 mV</T>
      <T x={198} y={257}>100 ms</T>
      <T x={402} y={233} align="right">10 mV</T>
      <T x={420} y={266}>20 ms</T>
      <T x={208} y={508} align="right">10 mV</T>
      <T x={198} y={552}>100 ms</T>
      <T x={410} y={519} align="right">10 mV</T>
      <T x={402} y={560}>20 ms</T>
      <T x={107} y={807} align="right">10 mV</T>
      <T x={99} y={847}>100 ms</T>
      <T x={457} y={850} align="right">10 mV</T>
      <T x={464} y={887}>20 ms</T>

      {/* stimulus labels */}
      <T x={21} y={283} size={19.5}>1.6 x 10<Sup>7</Sup> photons/cm<Sup>2</Sup>/s</T>
      <T x={21} y={576} size={19.5}>1.6 x 10<Sup>7</Sup> photons/cm<Sup>2</Sup>/s</T>
      <T x={25} y={887} size={19.5}>1.2 x 10<Sup>11</Sup> photons/cm<Sup>2</Sup>/s</T>

      {/* trace legends */}
      <T x={222} y={337} family={ARIAL} weight={700}>Cont</T>
      <T x={222} y={361} family={ARIAL} weight={700} color={RED}>2<Sup>nd</Sup>, 5 min</T>
      <T x={222} y={384} family={ARIAL} weight={700} color={RED}>after bright</T>
      <T x={222} y={407} family={ARIAL} weight={700} color={RED}>red flash</T>
      <T x={203} y={643} family={ARIAL} weight={700}>Cont</T>
      <T x={203} y={666} family={ARIAL} weight={700} color={RED}>2<Sup>nd</Sup>, 6 min</T>
      <T x={203} y={690} family={ARIAL} weight={700} color={RED}>after bright</T>
      <T x={203} y={713} family={ARIAL} weight={700} color={RED}>red flash</T>

      {/* pair panel labels */}
      <T x={532} y={153} family={ARIAL} rot>Latency (ms)</T>
      <T x={532} y={454} family={ARIAL} rot>Latency (ms)</T>
      <T x={545} y={799} family={ARIAL} rot>Latency (ms)</T>
      <T x={615} y={284} family={ARIAL} weight={700} align="center">1<Sup>st</Sup> set</T>
      <T x={653} y={284} family={ARIAL} weight={700} color={RED}>2<Sup>nd</Sup> set</T>
      <T x={619} y={585} family={ARIAL} align="center">Cont</T>
      <T x={677} y={585} family={ARIAL} align="center" color={RED}>2<Sup>nd</Sup></T>
      <T x={619} y={893} family={ARIAL} align="center">Cont</T>
      <T x={677} y={893} family={ARIAL} align="center" color={RED}>2<Sup>nd</Sup></T>
      <T x={647} y={338} size={22} family={ARIAL} weight={700} align="center" ls={1}>**</T>

      {/* D annotations */}
      <T x={67} y={1105} size={21} family={ARIAL} rot>Latency (ms)</T>
      {D_MANT.map((m, i) => (
        <T key={i} x={175 + 91.2 * i} y={1243} size={20} family={ARIAL} align="center">{m}x10<Sup>{D_EXP[i]}</Sup></T>
      ))}
      <T x={402} y={1268} size={20} family={ARIAL} align="center">Intensity (photons/cm<Sup>2</Sup>/s)</T>
      {D_SIG_LABEL.map((s, i) => (
        <T key={'s' + i} x={175 + 91.2 * D_SIG_GROUP[i]} y={[960, 1066, 1132, 1147][i]} size={22} family={ARIAL} weight={700} align="center" ls={1}>{s}</T>
      ))}
      {legendBox('#000', 965)}
      {legendBox(RED, 994)}
      <T x={545} y={972} size={20} family={ARIAL} weight={700}>Cont</T>
      <T x={545} y={1001} size={20} family={ARIAL} weight={700} color={RED}>2<Sup>nd</Sup>, after red</T>
    </div>
  );
}
